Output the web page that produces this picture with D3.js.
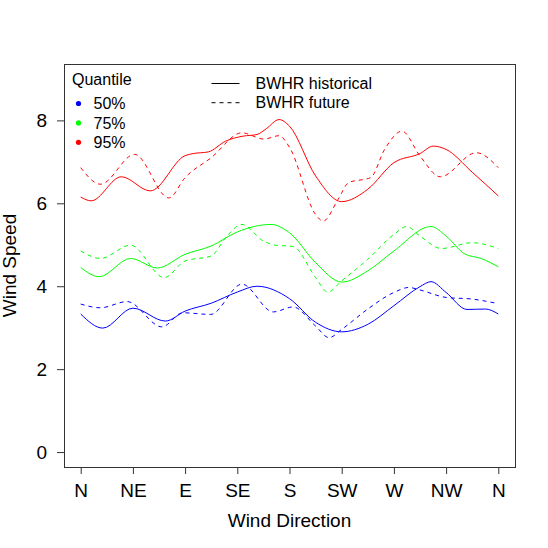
<!DOCTYPE html>
<html>
<head>
<meta charset="utf-8">
<script src="https://cdn.jsdelivr.net/npm/d3@7"></script>
<style>
  body { margin: 0; background: #fff; }
  text { font-family: "Liberation Sans", Arial, Helvetica, sans-serif; fill: #000; }
</style>
</head>
<body>
<div id="plotSection"></div>
<script>
// wind direction axis (degrees) and labels
const dirTicks = [0, 45, 90, 135, 180, 225, 270, 315, 360]
const dirLabels = ['N', 'NE', 'E', 'SE', 'S', 'SW', 'W', 'NW', 'N']
const speedTicks = [0, 2, 4, 6, 8]
const quantiles = ['50%', '75%', '95%']
const periods = ['BWHR historical', 'BWHR future']

// 50% quantile
const hist50Dir = [0, 19, 45, 73, 90, 112.5, 135, 152, 180, 202.5, 225, 247.5, 270, 292.5, 302, 315, 333, 349, 360]
const hist50 = [3.33, 2.99, 3.47, 3.16, 3.40, 3.59, 3.86, 4.0, 3.70, 3.13, 2.90, 3.08, 3.53, 3.99, 4.11, 3.85, 3.44, 3.45, 3.33]
const fut50Dir = [0, 17, 40, 70, 88, 112, 139, 166, 183, 202.5, 214, 225, 247.5, 270, 283, 292.5, 315, 337.5, 360]
const fut50 = [3.57, 3.48, 3.63, 3.02, 3.36, 3.32, 4.05, 3.38, 3.50, 3.04, 2.76, 2.96, 3.45, 3.85, 3.97, 3.91, 3.73, 3.69, 3.58]

// 75% quantile
const hist75Dir = [0, 16, 43, 66, 90, 112.5, 135, 164, 180, 202.5, 225, 247.5, 270, 302, 315, 331, 345, 360]
const hist75 = [4.45, 4.23, 4.67, 4.44, 4.77, 4.97, 5.31, 5.49, 5.29, 4.57, 4.10, 4.37, 4.85, 5.44, 5.21, 4.78, 4.67, 4.47]
const fut75Dir = [0, 17, 43, 72, 90, 112.5, 126, 139, 157.5, 168, 183, 202.5, 213, 225, 247.5, 270, 281, 292.5, 311, 337.5, 360]
const fut75 = [4.85, 4.67, 4.99, 4.21, 4.61, 4.73, 5.21, 5.49, 5.09, 4.99, 4.96, 4.21, 3.86, 4.13, 4.65, 5.25, 5.44, 5.21, 4.91, 5.05, 4.91]

// 95% quantile
const hist95Dir = [0, 9, 35, 60, 90, 97, 110, 125, 140, 152, 160, 171, 180, 202.5, 225, 247.5, 270, 292.5, 304, 315, 337.5, 360]
const hist95 = [6.15, 6.06, 6.64, 6.30, 7.15, 7.2, 7.24, 7.5, 7.62, 7.66, 7.8, 8.02, 7.86, 6.66, 6.04, 6.34, 6.98, 7.2, 7.38, 7.3, 6.75, 6.18]
const fut95Dir = [0, 17, 46.5, 76, 90, 112.5, 139, 158, 171, 180, 202.5, 209, 222, 231, 250, 262, 277, 292.5, 310, 341, 360]
const fut95 = [6.86, 6.46, 7.18, 6.13, 6.62, 7.10, 7.70, 7.55, 7.63, 7.35, 5.73, 5.57, 6.1, 6.5, 6.62, 7.3, 7.74, 7.14, 6.64, 7.22, 6.86]

const colors = ['#0000ff', '#00ff00', '#ff0000']

const series = [
    { dir: hist50Dir, val: hist50, q: 0, dashed: false },
    { dir: fut50Dir, val: fut50, q: 0, dashed: true },
    { dir: hist75Dir, val: hist75, q: 1, dashed: false },
    { dir: fut75Dir, val: fut75, q: 1, dashed: true },
    { dir: hist95Dir, val: hist95, q: 2, dashed: false },
    { dir: fut95Dir, val: fut95, q: 2, dashed: true }
]

const W = 548, H = 548
const plot = { left: 64, top: 64, right: 515, bottom: 467 }

// R style 4% axis extension
const xScale = d3.scaleLinear().domain([-14.4, 374.4]).range([plot.left, plot.right])
const yScale = d3.scaleLinear().domain([-0.36, 9.36]).range([plot.bottom, plot.top])

const svg = d3.select('#plotSection').append('svg')
    .attr('width', W)
    .attr('height', H)

const line = d3.line()
    .x(d => xScale(d[0]))
    .y(d => yScale(d[1]))
    .curve(d3.curveMonotoneX)

svg.selectAll('.curve')
    .data(series)
    .enter().append('path')
    .attr('class', 'curve')
    .attr('fill', 'none')
    .attr('stroke', d => colors[d.q])
    .attr('stroke-width', 1)
    .attr('stroke-dasharray', d => d.dashed ? '4,4' : null)
    .attr('d', d => line(d.dir.map((x, i) => [x, d.val[i]])))

// axes
const xAxis = d3.axisBottom(xScale)
    .tickValues(dirTicks)
    .tickFormat((d, i) => dirLabels[i])
    .tickSize(7)
    .tickPadding(9.5)

const yAxis = d3.axisLeft(yScale)
    .tickValues(speedTicks)
    .tickSize(7)
    .tickPadding(10)

const gx = svg.append('g')
    .attr('transform', `translate(0,${plot.bottom})`)
    .call(xAxis)
gx.select('.domain').remove()
gx.selectAll('text').style('font-size', '19px').attr('fill', '#000')
gx.selectAll('line').attr('stroke', '#333')

const gy = svg.append('g')
    .attr('transform', `translate(${plot.left},0)`)
    .call(yAxis)
gy.select('.domain').remove()
gy.selectAll('text').style('font-size', '19px').attr('fill', '#000')
gy.selectAll('line').attr('stroke', '#333')

svg.append('rect')
    .attr('x', plot.left + 0.5)
    .attr('y', plot.top + 0.5)
    .attr('width', plot.right - plot.left)
    .attr('height', plot.bottom - plot.top)
    .attr('fill', 'none')
    .attr('stroke', '#333')

svg.append('text')
    .attr('x', (plot.left + plot.right) / 2)
    .attr('y', 527)
    .attr('text-anchor', 'middle')
    .style('font-size', '19px')
    .text('Wind Direction')

svg.append('text')
    .attr('transform', `translate(15.5,${(plot.top + plot.bottom) / 2}) rotate(-90)`)
    .attr('text-anchor', 'middle')
    .style('font-size', '19px')
    .text('Wind Speed')

// quantile legend
svg.append('text')
    .attr('x', 72)
    .attr('y', 84.5)
    .style('font-size', '16px')
    .text('Quantile')

const qLegend = svg.selectAll('.qlegend')
    .data(quantiles)
    .enter().append('g')
    .attr('class', 'qlegend')
    .attr('transform', (d, i) => `translate(78.5,${103.5 + i * 19.4})`)

qLegend.append('circle')
    .attr('r', 2.6)
    .attr('fill', (d, i) => colors[i])

qLegend.append('text')
    .attr('x', 15)
    .attr('dy', '0.36em')
    .style('font-size', '16px')
    .text(d => d)

// line type legend
const pLegend = svg.selectAll('.plegend')
    .data(periods)
    .enter().append('g')
    .attr('class', 'plegend')
    .attr('transform', (d, i) => `translate(211.5,${83.5 + i * 19.2})`)

pLegend.append('line')
    .attr('x1', 0)
    .attr('x2', 28)
    .attr('stroke', '#000')
    .attr('stroke-dasharray', (d, i) => i === 1 ? '4,4' : null)

pLegend.append('text')
    .attr('x', 44)
    .attr('dy', '0.36em')
    .style('font-size', '16px')
    .text(d => d)
</script>
</body>
</html>
